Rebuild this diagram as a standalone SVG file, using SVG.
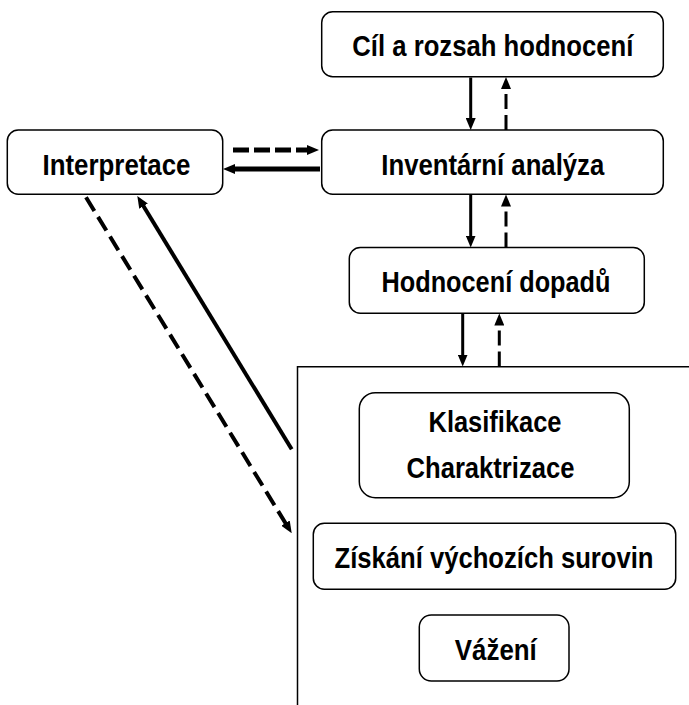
<svg xmlns="http://www.w3.org/2000/svg" width="689" height="705" viewBox="0 0 689 705">
<style>
.box{fill:#fff;stroke:#000;stroke-width:1.5}
.lbl{font-family:"Liberation Sans",Arial,sans-serif;font-weight:bold;font-size:29px;fill:#000;text-anchor:middle}
.c{fill:none;stroke:#000}
.v{stroke-width:3}
.h{stroke-width:5}
.d{stroke-width:4}
.dv{stroke-dasharray:15 6}
.dh{stroke-dasharray:16 5}
.dd{stroke-dasharray:16 7}
</style>
<defs>
<marker id="ah" markerUnits="userSpaceOnUse" viewBox="0 0 12 10" markerWidth="12" markerHeight="10" refX="2" refY="5" orient="auto">
<path d="M0,0 L12,5 L0,10 z" fill="#000"/>
</marker>
</defs>
<rect width="689" height="705" fill="#fff"/>
<g id="frame">
<path d="M297.5,705 L297.5,366.7 L689,366.7" fill="none" stroke="#000" stroke-width="1.5"/>
</g>
<g id="cil">
<rect class="box" x="321.7" y="11.7" width="341.6" height="65" rx="11"/>
<text class="lbl" x="492.8" y="56.2" textLength="281" lengthAdjust="spacingAndGlyphs">Cíl a rozsah hodnocení</text>
</g>
<g id="inventarni">
<rect class="box" x="321.7" y="130" width="341.6" height="64.3" rx="11"/>
<text class="lbl" x="492.8" y="174.5" textLength="223" lengthAdjust="spacingAndGlyphs">Inventární analýza</text>
</g>
<g id="interpretace">
<rect class="box" x="7.3" y="130" width="215.4" height="64.3" rx="11"/>
<text class="lbl" x="116.5" y="174.8" textLength="148" lengthAdjust="spacingAndGlyphs">Interpretace</text>
</g>
<g id="hodnoceni">
<rect class="box" x="349.3" y="247.5" width="295" height="65.8" rx="11"/>
<text class="lbl" x="496" y="292.3" textLength="229" lengthAdjust="spacingAndGlyphs">Hodnocení dopadů</text>
</g>
<g id="klasifikace">
<rect class="box" x="359.3" y="392.7" width="270" height="105" rx="16"/>
<text class="lbl" x="495" y="432.3" textLength="133" lengthAdjust="spacingAndGlyphs">Klasifikace</text>
<text class="lbl" x="490.5" y="478.3" textLength="168" lengthAdjust="spacingAndGlyphs">Charaktrizace</text>
</g>
<g id="ziskani">
<rect class="box" x="313.3" y="523.3" width="362.4" height="66" rx="11"/>
<text class="lbl" x="494" y="567.5" textLength="319" lengthAdjust="spacingAndGlyphs">Získání výchozích surovin</text>
</g>
<g id="vazeni">
<rect class="box" x="419.3" y="615" width="149.7" height="66" rx="12"/>
<text class="lbl" x="495.8" y="660" textLength="82" lengthAdjust="spacingAndGlyphs">Vážení</text>
</g>
<g id="connectors">
<path class="c v" d="M470.7,77.5 L470.7,120" marker-end="url(#ah)"/>
<path class="c v dv" d="M506,130 L506,87" marker-end="url(#ah)"/>
<path class="c v" d="M470.7,195 L470.7,237.5" marker-end="url(#ah)"/>
<path class="c v dv" d="M506,247.5 L506,204.5" marker-end="url(#ah)"/>
<path class="c v" d="M462.7,313.5 L462.7,356.5" marker-end="url(#ah)"/>
<path class="c v dv" d="M499.3,366.5 L499.3,323.5" marker-end="url(#ah)"/>
<path class="c h dh" d="M233,150 L309,150" marker-end="url(#ah)"/>
<path class="c h" d="M320,169 L233,169" marker-end="url(#ah)"/>
<path class="c d" d="M291.7,449.3 L142.5,204.5" marker-end="url(#ah)"/>
<path class="c d dd" d="M86,197.3 L286.5,524.8" marker-end="url(#ah)"/>
</g>
</svg>
